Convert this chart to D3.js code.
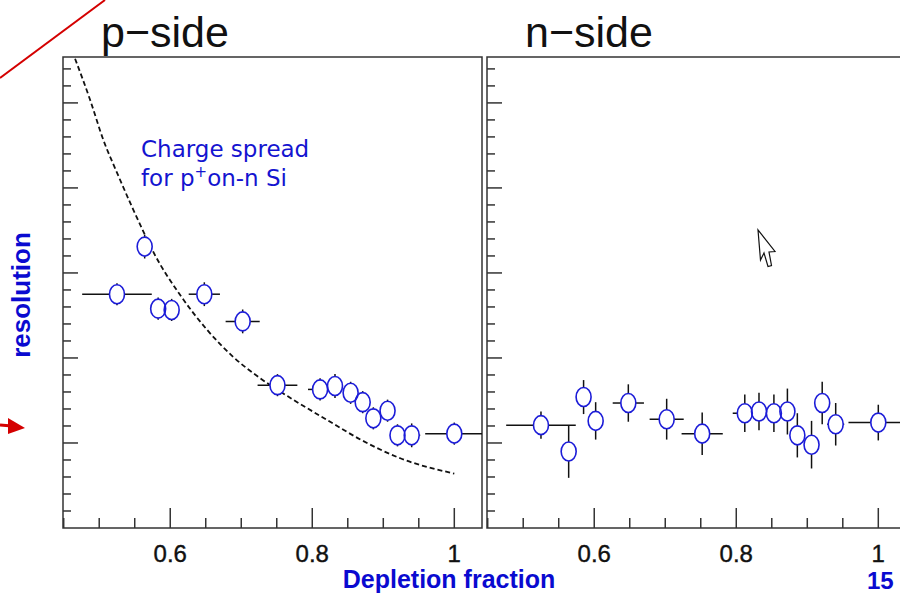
<!DOCTYPE html>
<html>
<head>
<meta charset="utf-8">
<script src="https://cdn.jsdelivr.net/npm/d3@7"></script>
<style>
  body { margin: 0; background: #fff; }
  svg { display: block; }
</style>
</head>
<body>
<div id="chart"><svg></svg></div>
<script>
// depletion fraction / resolution (arbitrary units, axis is unlabelled)
var pX    = [0.525, 0.564, 0.583, 0.602, 0.648, 0.702, 0.751, 0.811, 0.832, 0.854, 0.871, 0.886, 0.906, 0.920, 0.940, 1.000];
var pY    = [2.75, 3.31, 2.58, 2.565, 2.75, 2.43, 1.68, 1.63, 1.67, 1.59, 1.48, 1.29, 1.38, 1.09, 1.09, 1.11];
var pXErr = [0.049, 0.010, 0.010, 0.010, 0.022, 0.024, 0.028, 0.017, 0.010, 0.010, 0.010, 0.010, 0.010, 0.010, 0.012, 0.041];
var pYErr = [0.13, 0.14, 0.13, 0.13, 0.14, 0.14, 0.13, 0.13, 0.14, 0.13, 0.13, 0.13, 0.13, 0.13, 0.14, 0.13];

var nX    = [0.525, 0.564, 0.585, 0.602, 0.648, 0.702, 0.752, 0.812, 0.832, 0.853, 0.872, 0.886, 0.906, 0.921, 0.940, 1.000];
var nY    = [1.21, 0.90, 1.54, 1.26, 1.47, 1.28, 1.11, 1.35, 1.37, 1.35, 1.37, 1.09, 0.98, 1.47, 1.22, 1.24];
var nXErr = [0.049, 0.010, 0.010, 0.010, 0.022, 0.024, 0.029, 0.017, 0.010, 0.010, 0.010, 0.010, 0.010, 0.010, 0.012, 0.042];
var nYErr = [0.16, 0.31, 0.20, 0.22, 0.22, 0.24, 0.25, 0.22, 0.22, 0.22, 0.27, 0.26, 0.28, 0.25, 0.25, 0.21];

// charge spread expectation for p+ on n Si (dashed)
var curveX = [0.466, 0.487, 0.506, 0.525, 0.546, 0.566, 0.576, 0.614, 0.652, 0.689, 0.727, 0.773, 0.821, 0.868, 0.924, 1.000];
var curveY = [5.52, 5.04, 4.56, 4.18, 3.78, 3.42, 3.25, 2.74, 2.33, 2.01, 1.76, 1.51, 1.27, 1.04, 0.82, 0.64];

var xMajor = [0.6, 0.8, 1.0];
var xLabels = ["0.6", "0.8", "1"];
var panelTitles = ["p\u2212side", "n\u2212side"];

var W = 900, H = 594;
var blue = "#1c1cd8";
var labelBlue = "#0a0ad0";

var svg = d3.select("#chart").select("svg")
    .attr("width", W)
    .attr("height", H);

var plotTop = 57, plotBottom = 528, pw = 419;
var panels = [
    {left: 63, xs: pX, ys: pY, xe: pXErr, ye: pYErr, title: panelTitles[0], curve: true},
    {left: 487, xs: nX, ys: nY, xe: nXErr, ye: nYErr, title: panelTitles[1], curve: false}
];

var y = d3.scaleLinear().domain([0, 5.54]).range([plotBottom, plotTop]);
var yMinor = d3.range(0.2, 5.54, 0.2);

panels.forEach(function (p, i) {
    var x = d3.scaleLinear().domain([0.449, 1.039]).range([p.left, p.left + pw]);
    var xMinor = d3.range(0.45, 1.04, 0.05);

    var g = svg.append("g");

    // clip
    g.append("clipPath").attr("id", "clip" + i)
        .append("rect").attr("x", p.left).attr("y", plotTop).attr("width", pw).attr("height", plotBottom - plotTop);

    // y ticks (no labels)
    g.append("g").selectAll("line").data(yMinor).join("line")
        .attr("x1", p.left)
        .attr("x2", function (d) { return p.left + (Math.abs(d - Math.round(d)) < 0.01 ? 15 : 8); })
        .attr("y1", function (d) { return y(d); })
        .attr("y2", function (d) { return y(d); })
        .attr("stroke", "#333").attr("stroke-width", 1.5);

    // x ticks
    g.append("g").selectAll("line").data(xMinor).join("line")
        .attr("x1", function (d) { return x(d); })
        .attr("x2", function (d) { return x(d); })
        .attr("y1", plotBottom)
        .attr("y2", function (d) {
            var major = xMajor.some(function (m) { return Math.abs(m - d) < 0.001; });
            return plotBottom - (major ? 20 : 10);
        })
        .attr("stroke", "#333").attr("stroke-width", 1.5);

    g.append("g").selectAll("text").data(xMajor).join("text")
        .attr("x", function (d) { return x(d); })
        .attr("y", 562)
        .attr("text-anchor", "middle")
        .attr("font-family", "Liberation Sans, Arial, sans-serif")
        .attr("font-size", 24)
        .attr("fill", "#111")
        .attr("stroke", "#111").attr("stroke-width", 0.4)
        .text(function (d, k) { return xLabels[k]; });

    // frame
    g.append("rect")
        .attr("x", p.left).attr("y", plotTop)
        .attr("width", pw).attr("height", plotBottom - plotTop)
        .attr("fill", "none").attr("stroke", "#333").attr("stroke-width", 1.5);

    var plot = g.append("g").attr("clip-path", "url(#clip" + i + ")");

    if (p.curve) {
        var pts = curveX.map(function (d, k) { return [d, curveY[k]]; });
        plot.append("path")
            .datum(pts)
            .attr("d", d3.line()
                .x(function (d) { return x(d[0]); })
                .y(function (d) { return y(d[1]); })
                .curve(d3.curveMonotoneX))
            .attr("fill", "none")
            .attr("stroke", "#111")
            .attr("stroke-width", 1.8)
            .attr("stroke-dasharray", "5,3");
    }

    var data = p.xs.map(function (d, k) {
        return {x: d, y: p.ys[k], xe: p.xe[k], ye: p.ye[k]};
    });

    // error bars
    plot.append("g").selectAll("line").data(data).join("line")
        .attr("x1", function (d) { return x(d.x - d.xe); })
        .attr("x2", function (d) { return x(d.x + d.xe); })
        .attr("y1", function (d) { return y(d.y); })
        .attr("y2", function (d) { return y(d.y); })
        .attr("stroke", "#111").attr("stroke-width", 1.5);
    plot.append("g").selectAll("line").data(data).join("line")
        .attr("x1", function (d) { return x(d.x); })
        .attr("x2", function (d) { return x(d.x); })
        .attr("y1", function (d) { return y(d.y - d.ye); })
        .attr("y2", function (d) { return y(d.y + d.ye); })
        .attr("stroke", "#111").attr("stroke-width", 1.5);

    // open markers: white inside, then outlines
    plot.append("g").selectAll("ellipse").data(data).join("ellipse")
        .attr("cx", function (d) { return x(d.x); })
        .attr("cy", function (d) { return y(d.y); })
        .attr("rx", 7.5).attr("ry", 9.5)
        .attr("fill", "#fff");
    plot.append("g").selectAll("ellipse").data(data).join("ellipse")
        .attr("cx", function (d) { return x(d.x); })
        .attr("cy", function (d) { return y(d.y); })
        .attr("rx", 7.5).attr("ry", 9.5)
        .attr("fill", "none")
        .attr("stroke", blue).attr("stroke-width", 1.6);

    // panel title
    svg.append("text")
        .attr("x", p.left + 38)
        .attr("y", 47)
        .attr("font-family", "Liberation Sans, Arial, sans-serif")
        .attr("font-size", 43)
        .attr("fill", "#111")
        .text(p.title);
});

// annotation
var note = svg.append("text")
    .attr("font-family", "DejaVu Sans, Verdana, sans-serif")
    .attr("font-size", 23)
    .attr("fill", "#1414d0");
note.append("tspan").attr("x", 141).attr("y", 157).text("Charge spread");
var l2 = note.append("tspan").attr("x", 141).attr("y", 186);
l2.append("tspan").text("for p");
l2.append("tspan").attr("dy", -9).attr("font-size", 15).text("+");
l2.append("tspan").attr("dy", 9).text("on-n Si");

// axis titles
svg.append("text")
    .attr("transform", "translate(30,295) rotate(-90)")
    .attr("text-anchor", "middle")
    .attr("font-family", "Liberation Sans, Arial, sans-serif")
    .attr("font-weight", "bold")
    .attr("font-size", 26)
    .attr("fill", labelBlue)
    .text("resolution");

svg.append("text")
    .attr("x", 449)
    .attr("y", 588)
    .attr("text-anchor", "middle")
    .attr("font-family", "Liberation Sans, Arial, sans-serif")
    .attr("font-weight", "bold")
    .attr("font-size", 25)
    .attr("fill", labelBlue)
    .text("Depletion fraction");

// slide number
svg.append("text")
    .attr("x", 867)
    .attr("y", 589)
    .attr("font-family", "Liberation Sans, Arial, sans-serif")
    .attr("font-weight", "bold")
    .attr("font-size", 24)
    .attr("fill", labelBlue)
    .text("15");

// red pointer lines from the slide
svg.append("line")
    .attr("x1", 0).attr("y1", 78).attr("x2", 105).attr("y2", 0)
    .attr("stroke", "#d40000").attr("stroke-width", 2);
svg.append("line")
    .attr("x1", 0).attr("y1", 425).attr("x2", 12).attr("y2", 426)
    .attr("stroke", "#d40000").attr("stroke-width", 3);
svg.append("path")
    .attr("d", "M8,418 L25,428 L8,434 Z")
    .attr("fill", "#d40000");

// mouse cursor left in the screenshot
svg.append("path")
    .attr("transform", "translate(758,230)")
    .attr("d", "M0,0 L2.5,30 L6,23 L10,36.5 L13.5,35.5 L11,22 L17,21.5 Z")
    .attr("fill", "#fff")
    .attr("stroke", "#111")
    .attr("stroke-width", 1.2);
</script>
</body>
</html>
